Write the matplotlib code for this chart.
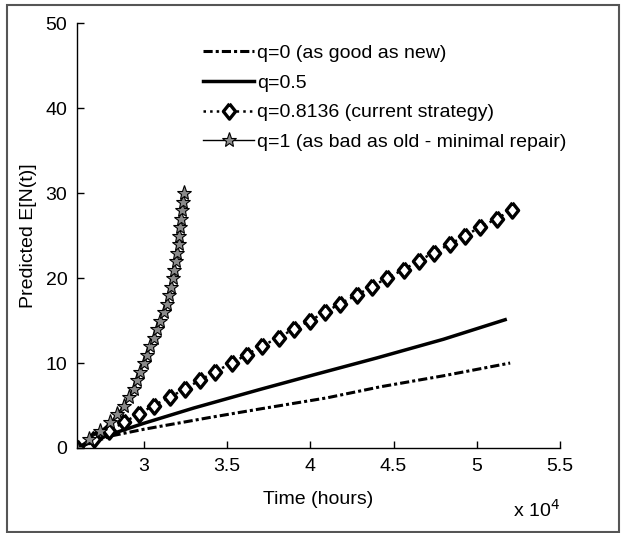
import matplotlib
matplotlib.use("Agg")
import matplotlib.pyplot as plt
from matplotlib.patches import Rectangle
from matplotlib.ticker import FuncFormatter

plt.rcParams['font.family'] = ['Liberation Sans', 'DejaVu Sans']

# expected number of failures vs. time for the four repair-effectiveness values
t_q0 = [26000, 28000, 30000, 34000, 37000, 41000, 44200, 48000, 52000]
n_q0 = [0, 1.4, 2.2, 3.6, 4.6, 5.9, 7.2, 8.5, 10.0]

t_q05 = [26000, 28000, 30000, 33000, 37000, 40000, 44000, 48000, 51700]
n_q05 = [0, 1.6, 2.9, 4.7, 6.9, 8.5, 10.6, 12.8, 15.1]

t_q08 = [26000, 27000, 27900, 28800, 29700, 30600, 31600, 32500, 33400, 34300,
         35300, 36200, 37100, 38100, 39000, 40000, 40900, 41800, 42800, 43700,
         44600, 45600, 46500, 47400, 48400, 49300, 50200, 51200, 52100]
n_q08 = list(range(29))

t_q1 = [26000, 26700, 27400, 28000, 28400, 28800, 29100, 29400, 29600, 29800,
        30000, 30200, 30400, 30600, 30800, 31000, 31200, 31400, 31550, 31650,
        31750, 31850, 31950, 32000, 32100, 32150, 32200, 32250, 32300, 32350,
        32400]
n_q1 = list(range(31))

labels = ['q=0 (as good as new)', 'q=0.5', 'q=0.8136 (current strategy)',
          'q=1 (as bad as old - minimal repair)']

# slightly tall diamond
diamond = [(0, 1), (0.8, 0), (0, -1), (-0.8, 0), (0, 1)]

fig = plt.figure(figsize=(6.21, 5.33), dpi=100)
ax = fig.add_axes([0.124, 0.1595, 0.778, 0.797])

ax.plot(t_q0, n_q0, color='black', lw=2.2, dashes=(3, 1, 1, 1), label=labels[0])
ax.plot(t_q05, n_q05, color='black', lw=2.5, ls='-', label=labels[1])
ax.plot(t_q08, n_q08, color='black', lw=1.8, ls=':', marker=diamond, ms=11,
        mfc='white', mec='black', mew=2.4, label=labels[2])
ax.plot(t_q1, n_q1, color='black', lw=1.0, ls='-', marker='*', ms=11,
        mfc='#8a8a8a', mec='black', mew=0.8, label=labels[3])

ax.set_xlim(26000, 55000)
ax.set_ylim(0, 50)
ax.set_xticks([30000, 35000, 40000, 45000, 50000, 55000])
ax.set_yticks(range(0, 51, 10))
ax.xaxis.set_major_formatter(FuncFormatter(lambda v, p: '%g' % (v / 1e4)))

for side in ('top', 'right'):
    ax.spines[side].set_visible(False)
for side in ('left', 'bottom'):
    ax.spines[side].set_linewidth(1.0)
ax.tick_params(direction='in', length=5, width=1, labelsize=14, pad=7)

ax.set_xlabel('Time (hours)', fontsize=14, labelpad=12)
ax.set_ylabel('Predicted E[N(t)]', fontsize=14, labelpad=6)
ax.text(1.0, -0.145, r'x 10$^{4}$', transform=ax.transAxes, ha='right',
        va='center', fontsize=14)

ax.legend(loc='upper left', bbox_to_anchor=(0.312, 0.935),
          bbox_transform=fig.transFigure, frameon=False, fontsize=14,
          handlelength=2.6, handletextpad=0.15, labelspacing=0.62,
          numpoints=1, borderpad=0)

# grey border round the whole figure
fig.patches.append(Rectangle((0.011, 0.002), 0.986, 0.988, fill=False,
                             edgecolor='#555555', lw=1.5,
                             transform=fig.transFigure, figure=fig))

fig.savefig('out.png', dpi=100)
